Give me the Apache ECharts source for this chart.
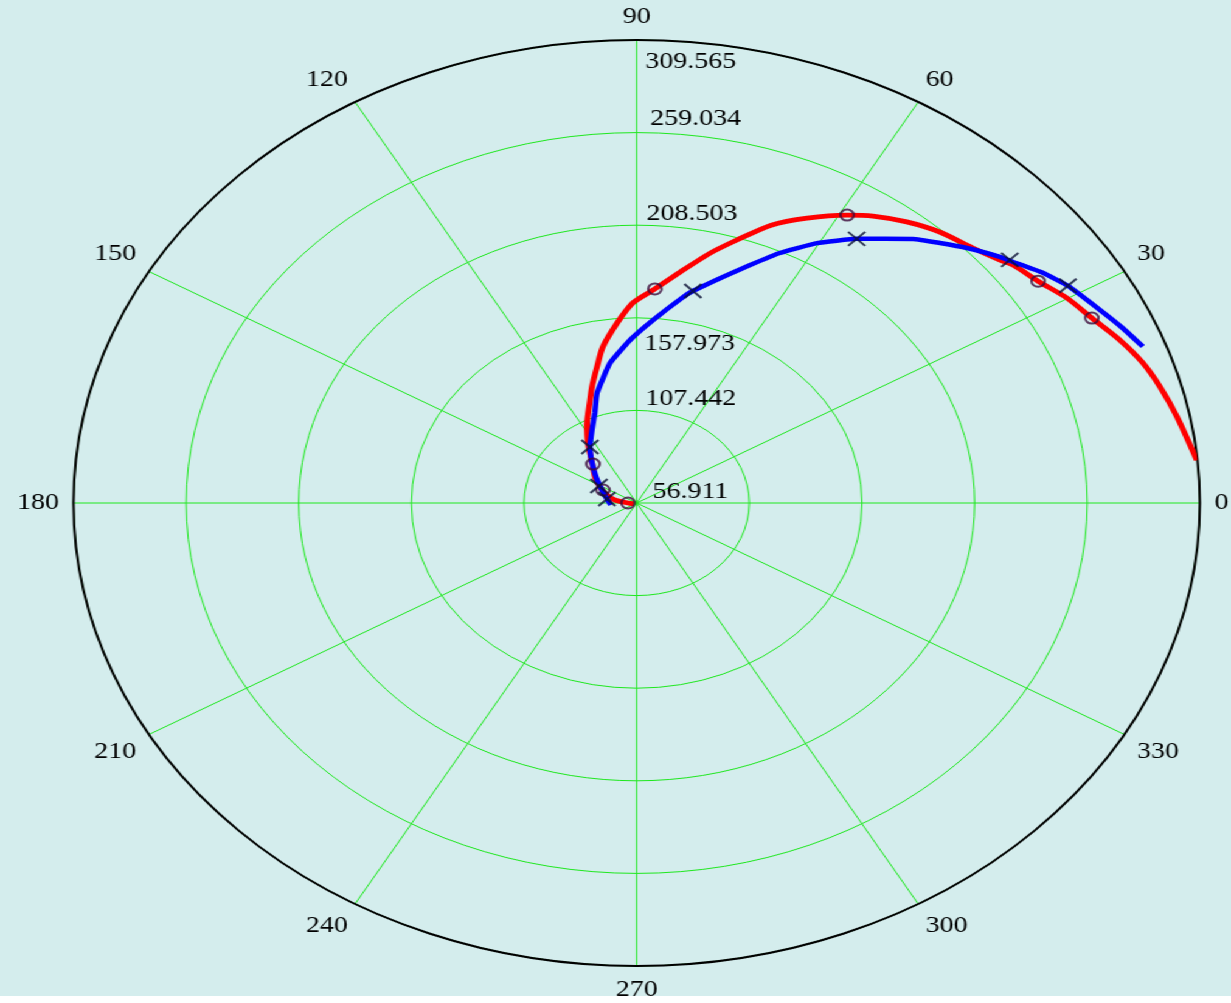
<!DOCTYPE html>
<html>
<head>
<meta charset="utf-8">
<script src="https://cdn.jsdelivr.net/npm/echarts@6/dist/echarts.min.js"></script>
<style>
  html, body { margin: 0; padding: 0; background: #ffffff; overflow: hidden; width: 1231px; height: 1003px; }
  /* the polar plot is drawn round and then widened into an ellipse */
  #chart { width: 1012px; height: 996px; transform: scaleX(1.2164); transform-origin: 0 0; background: #d4eded; }
</style>
</head>
<body>
<div id="chart"></div>
<script>
// radial scale: value at the centre and spacing of the rings
const R_ORIGIN = 56.911;
const R_STEP = 50.5308;
const R_RINGS = 5;

// red trace (angle in degrees, radius)
const redAngle  = [200, 180, 170.5, 161.9, 152.1, 142.8, 131.9, 123.7, 117.6, 110.4, 107.6, 103.5, 100.1, 95.1, 90.9,
                   86.0, 81.2, 76.4, 72.6, 68.3, 63.8, 59.0, 55.9, 51.7, 47.4, 42.7, 39.1, 37.6, 33.9, 30.1,
                   26.3, 22.3, 18.6, 15.1, 11.0, 5.3];
const redRadius = [58.3, 60.8, 66.8, 70.9, 75.5, 80.4, 87.0, 96.3, 105.0, 116.9, 123.3, 133.2, 143.4, 155.5, 166.1,
                   174.0, 184.4, 197.2, 207.3, 220.1, 230.2, 240.2, 246.0, 252.4, 257.8, 262.1, 267.0, 269.9, 273.9, 280.0,
                   284.7, 291.2, 296.5, 300.1, 303.8, 309.3];

// blue trace
const blueAngle  = [185, 170.7, 155.5, 142.1, 131.9, 124.4, 116.7, 110.9, 106.5, 98.9, 91.9, 85.8, 79.5, 77.7, 72.6,
                    68.6, 64.8, 60.3, 55.6, 49.3, 46.2, 43.2, 39.5, 38.3, 34.6, 31.5, 26.9, 23.6, 20.6];
const blueRadius = [68.5, 70.4, 74.0, 80.0, 87.0, 94.0, 101.5, 109.5, 119.5, 134.2, 145.9, 157.0, 171.2, 175.3, 186.2,
                    196.4, 207.7, 220.2, 231.6, 247.0, 253.5, 260.2, 268.1, 270.2, 278.2, 283.8, 289.9, 295.0, 299.5];

// sample markers on each trace
const redMarkAngle   = [180, 154.9, 132.7, 86.0, 59.0, 33.9, 26.3];
const redMarkRadius  = [60.8, 73.6, 85.8, 174.0, 240.2, 273.9, 284.7];
const blueMarkAngle  = [170.7, 151.3, 124.4, 77.7, 55.6, 38.4, 31.5];
const blueMarkRadius = [70.4, 76.2, 94.0, 175.3, 231.6, 270.5, 283.8];

const GREEN = '#1ee81e';
const FONT = 'Liberation Serif';
const FONT_SIZE = 23;

// angle axis runs 90..450 so the radial labels sit on the upward spoke
function toPolar(angles, radii) {
  return angles.map((a, i) => [radii[i] - R_ORIGIN, a < 90 ? a + 360 : a]);
}

// per-ring label nudges (rich-text padding)
const ringLabelStyle = {
  t0: { padding: [0, 0, 23, 7] },
  t1: { padding: [0, 0, 23, 1] },
  t2: { padding: [52, 0, 0, 0] },
  t3: { padding: [0, 0, 23, 2] },
  t4: { padding: [0, 0, 28, 5] },
  t5: { padding: [43, 0, 0, 1] }
};
Object.keys(ringLabelStyle).forEach(k => {
  Object.assign(ringLabelStyle[k], { fontFamily: FONT, fontSize: FONT_SIZE, color: '#000' });
});

const chart = echarts.init(document.getElementById('chart'));
chart.setOption({
  animation: false,
  backgroundColor: '#d4eded',
  polar: { center: [523.4, 503], radius: 463 },
  angleAxis: {
    type: 'value',
    min: 90,
    max: 450,
    interval: 30,
    startAngle: 90,
    clockwise: false,
    axisLine: { show: true, lineStyle: { color: '#000', width: 2 } },
    axisTick: { show: false },
    axisLabel: {
      show: true,
      margin: 12,
      fontFamily: FONT,
      fontSize: FONT_SIZE,
      color: '#000',
      formatter: v => (v === 450 ? '' : String(v % 360))
    },
    splitLine: { show: true, lineStyle: { color: GREEN, width: 1 } }
  },
  radiusAxis: {
    type: 'value',
    min: 0,
    max: R_STEP * R_RINGS,
    interval: R_STEP,
    axisLine: { show: false },
    axisTick: { show: false },
    splitLine: { show: true, lineStyle: { color: GREEN, width: 1 } },
    axisLabel: {
      show: true,
      margin: -6,
      align: 'left',
      fontFamily: FONT,
      fontSize: FONT_SIZE,
      color: '#000',
      formatter: v => '{t' + Math.round(v / R_STEP) + '|' + (v + R_ORIGIN).toFixed(3) + '}',
      rich: ringLabelStyle
    }
  },
  series: [
    {
      type: 'line',
      coordinateSystem: 'polar',
      data: toPolar(redAngle, redRadius),
      symbol: 'none',
      smooth: 0.25,
      lineStyle: { color: '#ff0000', width: 4.8 },
      z: 3
    },
    {
      type: 'line',
      coordinateSystem: 'polar',
      data: toPolar(blueAngle, blueRadius),
      symbol: 'none',
      smooth: 0.12,
      lineStyle: { color: '#0000ff', width: 4.5 },
      z: 4
    },
    {
      type: 'scatter',
      coordinateSystem: 'polar',
      data: toPolar(redMarkAngle, redMarkRadius),
      symbol: 'circle',
      symbolSize: 11,
      itemStyle: { color: 'transparent', borderColor: '#3c0a3a', borderWidth: 2 },
      z: 5
    },
    {
      type: 'scatter',
      coordinateSystem: 'polar',
      data: toPolar(blueMarkAngle, blueMarkRadius),
      symbol: 'path://M0,0L10,10M10,0L0,10',
      symbolSize: [14, 14],
      itemStyle: { color: 'none', borderColor: '#0a0f33', borderWidth: 2 },
      z: 6
    }
  ]
});
</script>
</body>
</html>
